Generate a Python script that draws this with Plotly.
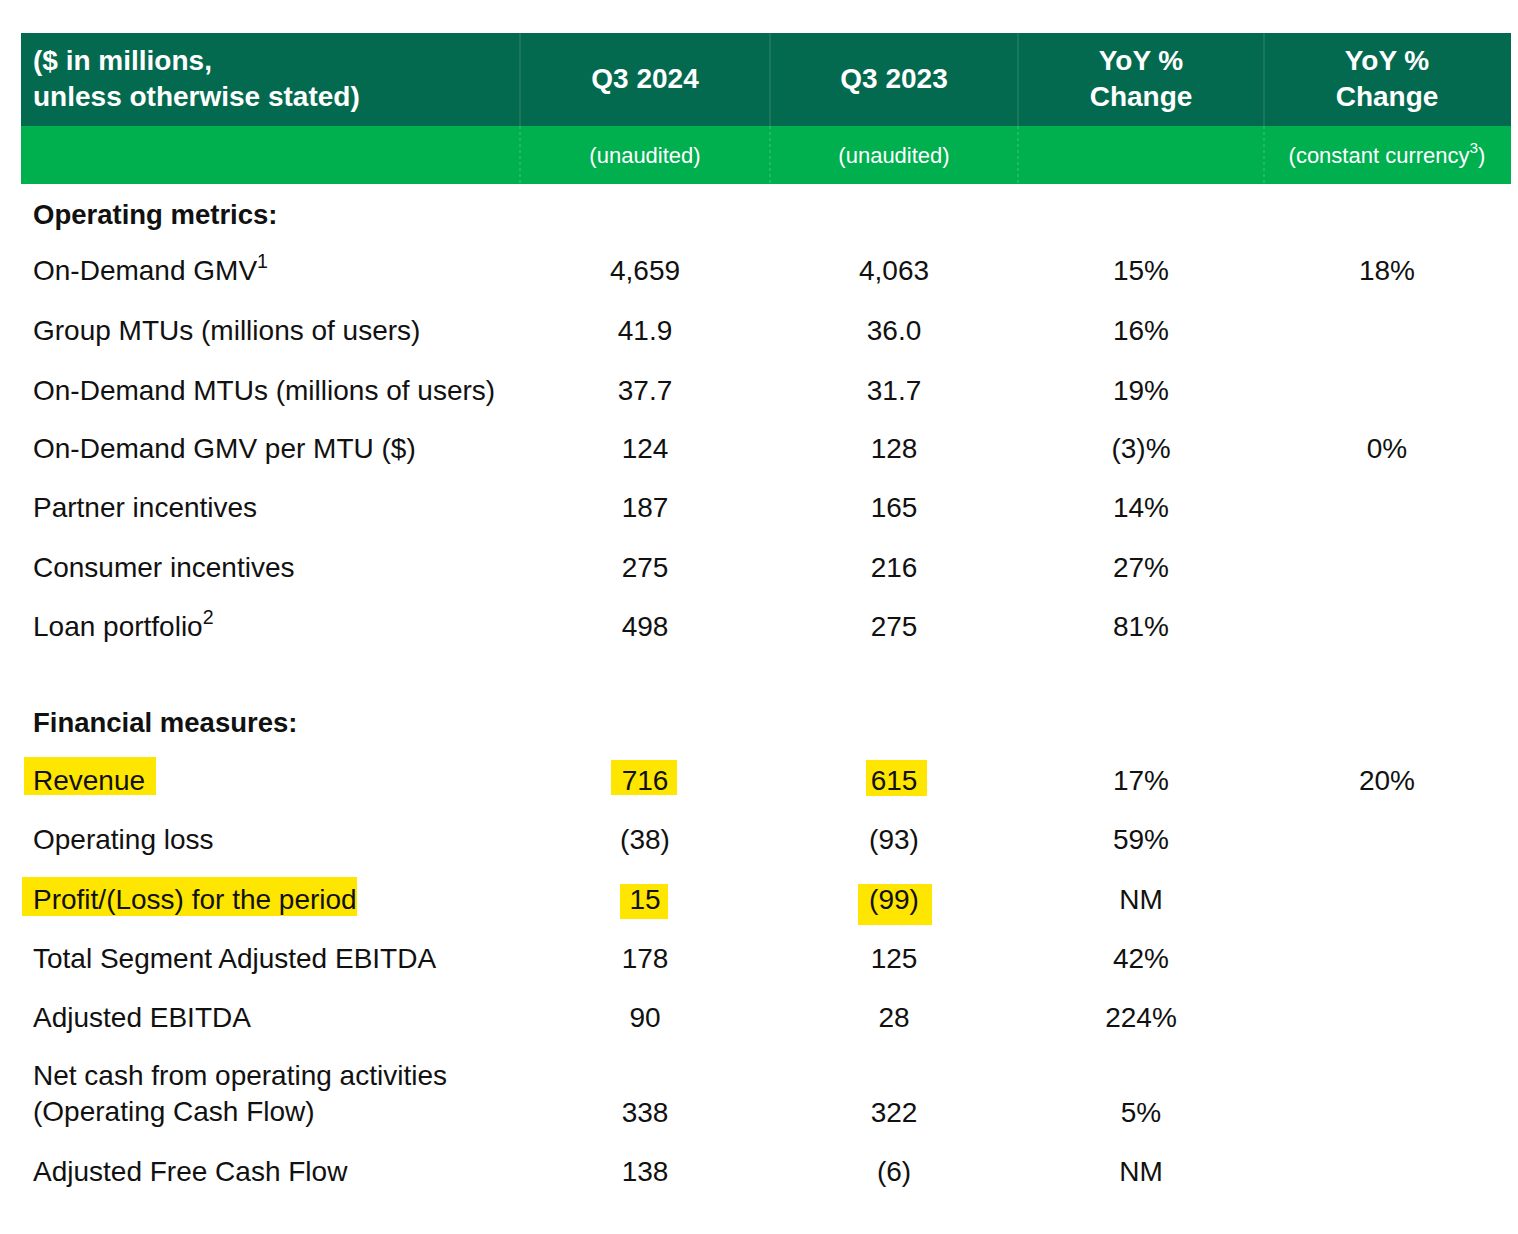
import plotly.graph_objects as go

# ---------------- data ----------------
header_cols = ["($ in millions,<br>unless otherwise stated)", "Q3 2024", "Q3 2023", "YoY %<br>Change", "YoY %<br>Change"]
sub_cols = ["", "(unaudited)", "(unaudited)", "", "(constant currency<sup>3</sup>)"]
section_titles = ["Operating metrics:", "Financial measures:"]
row_labels = [
    "On-Demand GMV<sup>1</sup>",
    "Group MTUs (millions of users)",
    "On-Demand MTUs (millions of users)",
    "On-Demand GMV per MTU ($)",
    "Partner incentives",
    "Consumer incentives",
    "Loan portfolio<sup>2</sup>",
    "Revenue",
    "Operating loss",
    "Profit/(Loss) for the period",
    "Total Segment Adjusted EBITDA",
    "Adjusted EBITDA",
    "Net cash from operating activities<br>(Operating Cash Flow)",
    "Adjusted Free Cash Flow",
]
q3_2024 = ["4,659", "41.9", "37.7", "124", "187", "275", "498", "716", "(38)", "15", "178", "90", "338", "138"]
q3_2023 = ["4,063", "36.0", "31.7", "128", "165", "216", "275", "615", "(93)", "(99)", "125", "28", "322", "(6)"]
yoy_pct = ["15%", "16%", "19%", "(3)%", "14%", "27%", "81%", "17%", "59%", "NM", "42%", "224%", "5%", "NM"]
yoy_cc = ["18%", "", "", "0%", "", "", "", "20%", "", "", "", "", "", ""]

# ---------------- layout geometry (pixels) ----------------
W, H = 1518, 1234
left, right = 21, 1511
col_edges = [left, 520, 770, 1018, 1264, right]
col_centers = [33, 645, 894, 1141, 1387]
hdr_top, hdr_mid, hdr_bot = 33, 126, 184
DY = 3  # baseline nudge
hdr_y, sub_y = 78 + DY, 154 + DY
section_y = [214 + DY, 722 + DY]
row_y = [y + DY for y in [270, 330, 390, 448, 507, 567, 626, 780, 839, 899, 958, 1017, 1112, 1171]]
label_y = [y - 19 if "<br>" in lab else y for y, lab in zip(row_y, row_labels)]

DARK = "#046A4F"
GREEN = "#00B04F"
TEXT = "#111111"
YELLOW = "#FFE600"
FONT = "Liberation Sans, Arial, sans-serif"
FS = 28

fig = go.Figure()

shapes = [
    dict(type="rect", x0=left, x1=right, y0=hdr_top, y1=hdr_mid, fillcolor=DARK, line_width=0, layer="below"),
    dict(type="rect", x0=left, x1=right, y0=hdr_mid, y1=hdr_bot, fillcolor=GREEN, line_width=0, layer="below"),
]
for xe in col_edges[1:-1]:
    shapes.append(dict(type="line", x0=xe, x1=xe, y0=hdr_top, y1=hdr_mid,
                       line=dict(color="rgba(255,255,255,0.18)", width=1)))
    shapes.append(dict(type="line", x0=xe, x1=xe, y0=hdr_mid, y1=hdr_bot,
                       line=dict(color="rgba(255,255,255,0.25)", width=1, dash="dot")))

# yellow highlighter marks
highlights = [
    (24, 156, 757, 795), (611, 677, 760, 795), (866, 927, 760, 796),
    (22, 357, 877, 916), (620, 668, 884, 919), (858, 932, 884, 925),
]
for x0, x1, y0, y1 in highlights:
    shapes.append(dict(type="rect", x0=x0, x1=x1, y0=y0, y1=y1, fillcolor=YELLOW,
                       line_width=0, layer="below"))


def text_trace(xs, ys, texts, pos, size, color):
    keep = [(x, y, t) for x, y, t in zip(xs, ys, texts) if t]
    return go.Scatter(
        x=[k[0] for k in keep], y=[k[1] for k in keep], mode="text",
        text=[k[2] for k in keep], textposition=pos,
        textfont=dict(family=FONT, size=size, color=color),
        hoverinfo="skip", showlegend=False)


# header rows
fig.add_trace(text_trace([col_centers[0]], [hdr_y], ["<b>" + header_cols[0] + "</b>"],
                         "middle right", 28, "white"))
fig.add_trace(text_trace(col_centers[1:], [hdr_y] * 4, ["<b>" + t + "</b>" for t in header_cols[1:]],
                         "middle center", 28, "white"))
fig.add_trace(text_trace(col_centers[1:], [sub_y] * 4, sub_cols[1:], "middle center", 22, "white"))

# section titles
fig.add_trace(text_trace([col_centers[0]] * 2, section_y, ["<b>" + s + "</b>" for s in section_titles],
                         "middle right", 27.5, TEXT))

# row labels
fig.add_trace(text_trace([col_centers[0]] * len(row_labels), label_y, row_labels,
                         "middle right", FS, TEXT))

# value columns
for cx, vals in zip(col_centers[1:], [q3_2024, q3_2023, yoy_pct, yoy_cc]):
    fig.add_trace(text_trace([cx] * len(vals), row_y, vals, "middle center", FS, TEXT))

fig.update_layout(
    width=W, height=H, margin=dict(l=0, r=0, t=0, b=0),
    paper_bgcolor="white", plot_bgcolor="white",
    xaxis=dict(range=[0, W], visible=False, fixedrange=True),
    yaxis=dict(range=[H, 0], visible=False, fixedrange=True),
    shapes=shapes, showlegend=False,
)

fig.write_html("out.html", config={"displayModeBar": False},
               post_script="document.body.style.margin='0';document.body.style.padding='0';")
